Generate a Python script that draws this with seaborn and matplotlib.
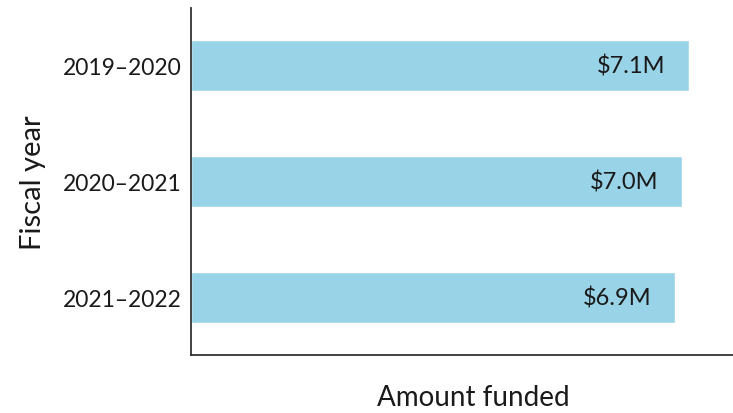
import matplotlib
matplotlib.use("Agg")
import matplotlib.pyplot as plt
import seaborn as sns
import pandas as pd

# Funding by fiscal year, in millions of dollars
fiscal_years = ["2019–2020", "2020–2021", "2021–2022"]
amounts_m = [7.1, 7.0, 6.9]

df = pd.DataFrame({"Fiscal year": fiscal_years, "Amount": amounts_m})

sns.set_theme(style="white")
plt.rcParams["font.family"] = ["Lato", "DejaVu Sans"]

fig = plt.figure(figsize=(7.33, 4.14), dpi=100)
ax = fig.add_axes([0.2606, 0.1401, 0.7394, 0.8382])

sns.barplot(data=df, x="Amount", y="Fiscal year", orient="h",
            color="#99D3E8", saturation=1, width=0.44, ax=ax)

ax.set_xlim(0, 7.73)
ax.set_ylim(2.5, -0.5)

# Value labels inside the right end of each bar
for i, v in enumerate(amounts_m):
    ax.annotate(f"${v:.1f}M", xy=(v, i), xytext=(-17, 0),
                textcoords="offset points", ha="right", va="center",
                fontsize=17, color="#1a1a1a")

ax.set_xticks([])
ax.tick_params(axis="y", length=0, pad=7, labelsize=16.5, labelcolor="#1a1a1a")

ax.set_ylabel("Fiscal year", fontsize=21, color="#1a1a1a")
ax.yaxis.set_label_coords(-0.268, 0.5)
ax.set_xlabel("Amount funded", fontsize=20, color="#1a1a1a")
ax.xaxis.set_label_coords(0.52, -0.085)

for side in ["top", "right"]:
    ax.spines[side].set_visible(False)
for side in ["left", "bottom"]:
    ax.spines[side].set_color("#333333")
    ax.spines[side].set_linewidth(1.3)

fig.savefig("out.png", dpi=100)
